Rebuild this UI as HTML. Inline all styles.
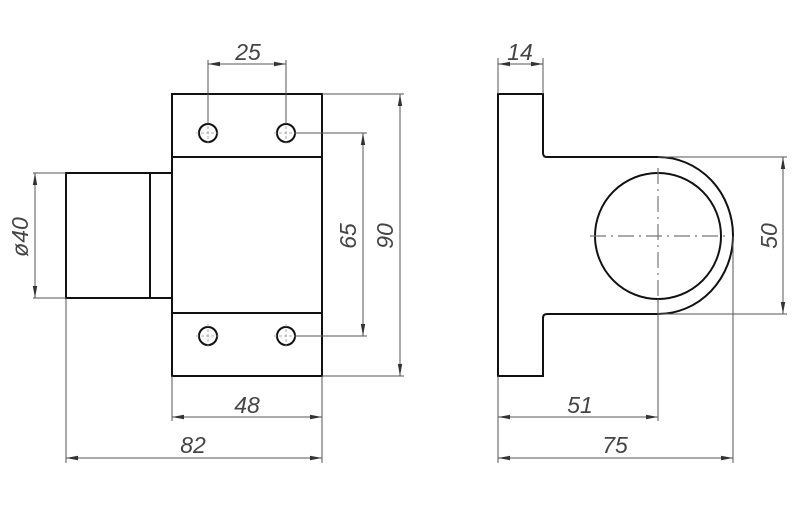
<!DOCTYPE html>
<html><head><meta charset="utf-8"><style>
html,body{margin:0;padding:0;background:#fff}
svg{display:block}
text{font-family:"Liberation Sans",sans-serif;font-style:italic;font-size:23px;fill:#444}
.o{stroke:#111;stroke-width:2;fill:none}
.d{stroke:#555;stroke-width:1;fill:none}
.c{stroke:#777;stroke-width:1.2;fill:none;stroke-dasharray:16,5,2,5}
.a{fill:#333}
</style></head><body>
<svg width="800" height="509" viewBox="0 0 800 509" xmlns="http://www.w3.org/2000/svg">
<defs>
<marker id="m" markerWidth="12" markerHeight="6" refX="12" refY="3" orient="auto" markerUnits="userSpaceOnUse"><path d="M0,0.8 L12,3 L0,5.2Z" class="a"/></marker>
</defs>
<!-- LEFT VIEW -->
<rect x="172" y="94" width="150" height="282" class="o"/>
<line x1="172" y1="157" x2="322" y2="157" class="o"/>
<line x1="172" y1="313" x2="322" y2="313" class="o"/>
<rect x="66" y="173" width="106" height="125" class="o"/>
<line x1="150" y1="173" x2="150" y2="298" class="o"/>
<g class="o">
<circle cx="208" cy="133" r="9"/><circle cx="286" cy="133" r="9"/>
<circle cx="208" cy="336" r="9"/><circle cx="286" cy="336" r="9"/>
</g>
<g stroke="#999" stroke-width="0.8" stroke-dasharray="3,2">
<line x1="196" y1="133" x2="220" y2="133"/><line x1="208" y1="121" x2="208" y2="145"/>
<line x1="274" y1="133" x2="298" y2="133"/><line x1="286" y1="121" x2="286" y2="145"/>
<line x1="196" y1="336" x2="220" y2="336"/><line x1="208" y1="324" x2="208" y2="348"/>
<line x1="274" y1="336" x2="298" y2="336"/><line x1="286" y1="324" x2="286" y2="348"/>
</g>
<!-- 25 -->
<g class="d">
<line x1="208" y1="60" x2="208" y2="124"/><line x1="286" y1="60" x2="286" y2="124"/>
<line x1="247" y1="64" x2="208" y2="64" marker-end="url(#m)"/><line x1="247" y1="64" x2="286" y2="64" marker-end="url(#m)"/>
</g>
<text x="248" y="60" text-anchor="middle">25</text>
<!-- 65 -->
<g class="d">
<line x1="295" y1="133" x2="367" y2="133"/><line x1="295" y1="336" x2="367" y2="336"/>
<line x1="363" y1="234" x2="363" y2="133" marker-end="url(#m)"/><line x1="363" y1="234" x2="363" y2="336" marker-end="url(#m)"/>
</g>
<text transform="translate(356,236) rotate(-90)" text-anchor="middle">65</text>
<!-- 90 -->
<g class="d">
<line x1="322" y1="94" x2="404" y2="94"/><line x1="322" y1="376" x2="404" y2="376"/>
<line x1="400" y1="235" x2="400" y2="94" marker-end="url(#m)"/><line x1="400" y1="235" x2="400" y2="376" marker-end="url(#m)"/>
</g>
<text transform="translate(393,236) rotate(-90)" text-anchor="middle">90</text>
<!-- Ø40 -->
<g class="d">
<line x1="33" y1="173" x2="66" y2="173"/><line x1="33" y1="298" x2="66" y2="298"/>
<line x1="35" y1="235" x2="35" y2="173" marker-end="url(#m)"/><line x1="35" y1="235" x2="35" y2="298" marker-end="url(#m)"/>
</g>
<text transform="translate(28,237) rotate(-90)" text-anchor="middle">ø40</text>
<!-- 48 -->
<g class="d">
<line x1="172" y1="376" x2="172" y2="421"/><line x1="322" y1="376" x2="322" y2="463"/>
<line x1="247" y1="417" x2="172" y2="417" marker-end="url(#m)"/><line x1="247" y1="417" x2="322" y2="417" marker-end="url(#m)"/>
</g>
<text x="247" y="413" text-anchor="middle">48</text>
<!-- 82 -->
<g class="d">
<line x1="66" y1="298" x2="66" y2="463"/>
<line x1="194" y1="458" x2="66" y2="458" marker-end="url(#m)"/><line x1="194" y1="458" x2="322" y2="458" marker-end="url(#m)"/>
</g>
<text x="193" y="453" text-anchor="middle">82</text>

<!-- RIGHT VIEW -->
<path class="o" d="M498,94 L543,94 L543,153 Q543,157 547,157 L658,157 A75,78.5 0 0 1 658,314 L547,314 Q543,314 543,318 L543,376 L498,376 Z"/>
<ellipse cx="658" cy="236" rx="63" ry="63" class="o"/>
<line x1="590" y1="236" x2="727" y2="236" class="c"/>
<line x1="658" y1="168" x2="658" y2="304" class="c"/>
<!-- 14 -->
<g class="d">
<line x1="498" y1="58" x2="498" y2="94"/><line x1="543" y1="58" x2="543" y2="94"/>
<line x1="520" y1="64" x2="498" y2="64" marker-end="url(#m)"/><line x1="520" y1="64" x2="543" y2="64" marker-end="url(#m)"/>
</g>
<text x="520" y="60" text-anchor="middle">14</text>
<!-- 50 -->
<g class="d">
<line x1="658" y1="157" x2="787" y2="157"/><line x1="658" y1="314" x2="787" y2="314"/>
<line x1="783" y1="235" x2="783" y2="157" marker-end="url(#m)"/><line x1="783" y1="235" x2="783" y2="314" marker-end="url(#m)"/>
</g>
<text transform="translate(777,236) rotate(-90)" text-anchor="middle">50</text>
<!-- 51 -->
<g class="d">
<line x1="498" y1="376" x2="498" y2="463"/><line x1="658" y1="299" x2="658" y2="421"/>
<line x1="578" y1="417" x2="498" y2="417" marker-end="url(#m)"/><line x1="578" y1="417" x2="658" y2="417" marker-end="url(#m)"/>
</g>
<text x="580" y="413" text-anchor="middle">51</text>
<!-- 75 -->
<g class="d">
<line x1="733" y1="236" x2="733" y2="463"/>
<line x1="615" y1="458" x2="498" y2="458" marker-end="url(#m)"/><line x1="615" y1="458" x2="733" y2="458" marker-end="url(#m)"/>
</g>
<text x="615" y="453" text-anchor="middle">75</text>
</svg>
</body></html>
